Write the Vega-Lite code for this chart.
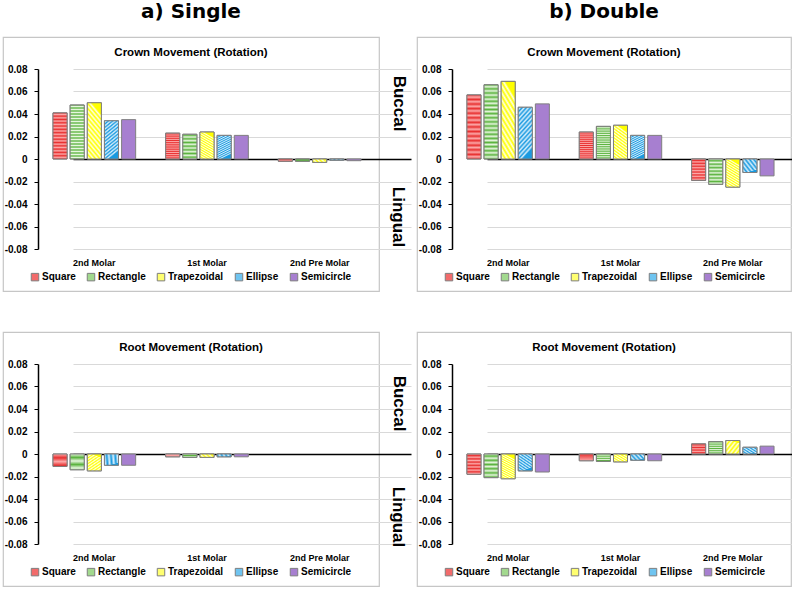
{
  "$schema": "https://vega.github.io/schema/vega-lite/v6.json",
  "background": "white",
  "padding": {"left": 2, "top": 1, "right": 0, "bottom": 0},
  "datasets": {
    "single_crown": [
      {"tooth": "2nd Molar", "shape": "Square", "value": 0.041},
      {"tooth": "2nd Molar", "shape": "Rectangle", "value": 0.048},
      {"tooth": "2nd Molar", "shape": "Trapezoidal", "value": 0.05},
      {"tooth": "2nd Molar", "shape": "Ellipse", "value": 0.034},
      {"tooth": "2nd Molar", "shape": "Semicircle", "value": 0.035},
      {"tooth": "1st Molar", "shape": "Square", "value": 0.023},
      {"tooth": "1st Molar", "shape": "Rectangle", "value": 0.022},
      {"tooth": "1st Molar", "shape": "Trapezoidal", "value": 0.024},
      {"tooth": "1st Molar", "shape": "Ellipse", "value": 0.021},
      {"tooth": "1st Molar", "shape": "Semicircle", "value": 0.021},
      {"tooth": "2nd Pre Molar", "shape": "Square", "value": -0.002},
      {"tooth": "2nd Pre Molar", "shape": "Rectangle", "value": -0.002},
      {"tooth": "2nd Pre Molar", "shape": "Trapezoidal", "value": -0.003},
      {"tooth": "2nd Pre Molar", "shape": "Ellipse", "value": -0.001},
      {"tooth": "2nd Pre Molar", "shape": "Semicircle", "value": -0.0015}
    ],
    "double_crown": [
      {"tooth": "2nd Molar", "shape": "Square", "value": 0.057},
      {"tooth": "2nd Molar", "shape": "Rectangle", "value": 0.066},
      {"tooth": "2nd Molar", "shape": "Trapezoidal", "value": 0.069},
      {"tooth": "2nd Molar", "shape": "Ellipse", "value": 0.046},
      {"tooth": "2nd Molar", "shape": "Semicircle", "value": 0.049},
      {"tooth": "1st Molar", "shape": "Square", "value": 0.024},
      {"tooth": "1st Molar", "shape": "Rectangle", "value": 0.029},
      {"tooth": "1st Molar", "shape": "Trapezoidal", "value": 0.03},
      {"tooth": "1st Molar", "shape": "Ellipse", "value": 0.021},
      {"tooth": "1st Molar", "shape": "Semicircle", "value": 0.021},
      {"tooth": "2nd Pre Molar", "shape": "Square", "value": -0.019},
      {"tooth": "2nd Pre Molar", "shape": "Rectangle", "value": -0.0225},
      {"tooth": "2nd Pre Molar", "shape": "Trapezoidal", "value": -0.025},
      {"tooth": "2nd Pre Molar", "shape": "Ellipse", "value": -0.012},
      {"tooth": "2nd Pre Molar", "shape": "Semicircle", "value": -0.015}
    ],
    "single_root": [
      {"tooth": "2nd Molar", "shape": "Square", "value": -0.011},
      {"tooth": "2nd Molar", "shape": "Rectangle", "value": -0.014},
      {"tooth": "2nd Molar", "shape": "Trapezoidal", "value": -0.015},
      {"tooth": "2nd Molar", "shape": "Ellipse", "value": -0.01},
      {"tooth": "2nd Molar", "shape": "Semicircle", "value": -0.01},
      {"tooth": "1st Molar", "shape": "Square", "value": -0.0025},
      {"tooth": "1st Molar", "shape": "Rectangle", "value": -0.003},
      {"tooth": "1st Molar", "shape": "Trapezoidal", "value": -0.003},
      {"tooth": "1st Molar", "shape": "Ellipse", "value": -0.0025},
      {"tooth": "1st Molar", "shape": "Semicircle", "value": -0.0025}
    ],
    "double_root": [
      {"tooth": "2nd Molar", "shape": "Square", "value": -0.018},
      {"tooth": "2nd Molar", "shape": "Rectangle", "value": -0.021},
      {"tooth": "2nd Molar", "shape": "Trapezoidal", "value": -0.022},
      {"tooth": "2nd Molar", "shape": "Ellipse", "value": -0.015},
      {"tooth": "2nd Molar", "shape": "Semicircle", "value": -0.016},
      {"tooth": "1st Molar", "shape": "Square", "value": -0.006},
      {"tooth": "1st Molar", "shape": "Rectangle", "value": -0.0065},
      {"tooth": "1st Molar", "shape": "Trapezoidal", "value": -0.007},
      {"tooth": "1st Molar", "shape": "Ellipse", "value": -0.0055},
      {"tooth": "1st Molar", "shape": "Semicircle", "value": -0.006},
      {"tooth": "2nd Pre Molar", "shape": "Square", "value": 0.009},
      {"tooth": "2nd Pre Molar", "shape": "Rectangle", "value": 0.011},
      {"tooth": "2nd Pre Molar", "shape": "Trapezoidal", "value": 0.012},
      {"tooth": "2nd Pre Molar", "shape": "Ellipse", "value": 0.006},
      {"tooth": "2nd Pre Molar", "shape": "Semicircle", "value": 0.007}
    ]
  },
  "vconcat": [
    {
      "bounds": "flush",
      "spacing": 38,
      "resolve": {"scale": {"xOffset": "independent", "fill": "independent"}},
      "hconcat": [
        {
          "width": 376, "height": 254,
          "data": {"name": "single_crown"},
          "title": {"text": "a) Single", "subtitle": "Crown Movement (Rotation)", "font": "DejaVu Sans", "fontSize": 20, "subtitleFont": "Liberation Sans", "subtitleFontSize": 11.5, "subtitleFontWeight": "bold", "subtitleColor": "#000000", "subtitlePadding": 25, "offset": -21.5, "frame": "group"},
          "resolve": {"axis": {"y": "independent"}},
          "layer": [
            {
              "mark": {"type": "bar", "stroke": "#7f7f7f", "strokeWidth": 1},
              "encoding": {
                "x": {"field": "tooth", "type": "nominal", "sort": ["2nd Molar", "1st Molar", "2nd Pre Molar"], "scale": {"range": [35, 373], "paddingInner": 0, "paddingOuter": 0}, "axis": {"title": null}},
                "xOffset": {"field": "shape", "type": "nominal", "sort": ["Square", "Rectangle", "Trapezoidal", "Ellipse", "Semicircle"], "scale": {"paddingInner": 0.18, "paddingOuter": 0.875}},
                "y": {"field": "value", "type": "quantitative", "scale": {"domain": [-0.08, 0.08], "range": [212, 32], "nice": false, "zero": false},
                  "axis": {"title": null, "values": [-0.08, -0.06, -0.04, -0.02, 0, 0.02, 0.04, 0.06, 0.08],
                    "labelExpr": "datum.value === 0 ? '0' : (datum.value < 0 ? '-' : '') + format(abs(datum.value), '.2f')",
                    "gridColor": {"condition": {"test": "datum.value === 0", "value": "#000000"}, "value": "#d9d9d9"},
                    "gridWidth": {"condition": {"test": "datum.value === 0", "value": 1.5}, "value": 1}}},
                "fill": {"field": "shape", "type": "nominal", "sort": ["Square", "Rectangle", "Trapezoidal", "Ellipse", "Semicircle"],
                  "scale": {"domain": ["Square", "Rectangle", "Trapezoidal", "Ellipse", "Semicircle"], "range": ["#f26b6b", "#a2d98e", "#ffff70", "#6fc4f0", "#a77fd0"]},
                  "legend": {"orient": "none", "legendX": 27, "legendY": 235, "direction": "horizontal", "columns": 5}}
              }
            },
            {
              "transform": [{"filter": "datum.shape === 'Square'"}],
              "mark": {"type": "bar", "stroke": "#7f7f7f", "strokeWidth": 1, "fill": {"gradient": "linear", "x1": 0, "y1": 0, "x2": 0, "y2": 1, "stops": [
                {"offset": 0, "color": "#e83030"}, {"offset": 0.0357, "color": "#fca8a8"}, {"offset": 0.0714, "color": "#e83030"}, {"offset": 0.1071, "color": "#fca8a8"},
                {"offset": 0.1429, "color": "#e83030"}, {"offset": 0.1786, "color": "#fca8a8"}, {"offset": 0.2143, "color": "#e83030"}, {"offset": 0.25, "color": "#fca8a8"},
                {"offset": 0.2857, "color": "#e83030"}, {"offset": 0.3214, "color": "#fca8a8"}, {"offset": 0.3571, "color": "#e83030"}, {"offset": 0.3929, "color": "#fca8a8"},
                {"offset": 0.4286, "color": "#e83030"}, {"offset": 0.4643, "color": "#fca8a8"}, {"offset": 0.5, "color": "#e83030"}, {"offset": 0.5357, "color": "#fca8a8"},
                {"offset": 0.5714, "color": "#e83030"}, {"offset": 0.6071, "color": "#fca8a8"}, {"offset": 0.6429, "color": "#e83030"}, {"offset": 0.6786, "color": "#fca8a8"},
                {"offset": 0.7143, "color": "#e83030"}, {"offset": 0.75, "color": "#fca8a8"}, {"offset": 0.7857, "color": "#e83030"}, {"offset": 0.8214, "color": "#fca8a8"},
                {"offset": 0.8571, "color": "#e83030"}, {"offset": 0.8929, "color": "#fca8a8"}, {"offset": 0.9286, "color": "#e83030"}, {"offset": 0.9643, "color": "#fca8a8"},
                {"offset": 1, "color": "#e83030"}]}},
              "encoding": {
                "x": {"field": "tooth", "type": "nominal", "sort": ["2nd Molar", "1st Molar", "2nd Pre Molar"], "axis": {"title": null}},
                "xOffset": {"field": "shape", "type": "nominal", "sort": ["Square", "Rectangle", "Trapezoidal", "Ellipse", "Semicircle"]},
                "y": {"field": "value", "type": "quantitative", "axis": null}
              }
            },
            {
              "transform": [{"filter": "datum.shape === 'Rectangle'"}],
              "mark": {"type": "bar", "stroke": "#7f7f7f", "strokeWidth": 1, "fill": {"gradient": "linear", "x1": 0, "y1": 0, "x2": 0, "y2": 1, "stops": [
                {"offset": 0, "color": "#5cb440"}, {"offset": 0.0278, "color": "#e6f6de"}, {"offset": 0.0556, "color": "#5cb440"}, {"offset": 0.0833, "color": "#e6f6de"},
                {"offset": 0.1111, "color": "#5cb440"}, {"offset": 0.1389, "color": "#e6f6de"}, {"offset": 0.1667, "color": "#5cb440"}, {"offset": 0.1944, "color": "#e6f6de"},
                {"offset": 0.2222, "color": "#5cb440"}, {"offset": 0.25, "color": "#e6f6de"}, {"offset": 0.2778, "color": "#5cb440"}, {"offset": 0.3056, "color": "#e6f6de"},
                {"offset": 0.3333, "color": "#5cb440"}, {"offset": 0.3611, "color": "#e6f6de"}, {"offset": 0.3889, "color": "#5cb440"}, {"offset": 0.4167, "color": "#e6f6de"},
                {"offset": 0.4444, "color": "#5cb440"}, {"offset": 0.4722, "color": "#e6f6de"}, {"offset": 0.5, "color": "#5cb440"}, {"offset": 0.5278, "color": "#e6f6de"},
                {"offset": 0.5556, "color": "#5cb440"}, {"offset": 0.5833, "color": "#e6f6de"}, {"offset": 0.6111, "color": "#5cb440"}, {"offset": 0.6389, "color": "#e6f6de"},
                {"offset": 0.6667, "color": "#5cb440"}, {"offset": 0.6944, "color": "#e6f6de"}, {"offset": 0.7222, "color": "#5cb440"}, {"offset": 0.75, "color": "#e6f6de"},
                {"offset": 0.7778, "color": "#5cb440"}, {"offset": 0.8056, "color": "#e6f6de"}, {"offset": 0.8333, "color": "#5cb440"}, {"offset": 0.8611, "color": "#e6f6de"},
                {"offset": 0.8889, "color": "#5cb440"}, {"offset": 0.9167, "color": "#e6f6de"}, {"offset": 0.9444, "color": "#5cb440"}, {"offset": 0.9722, "color": "#e6f6de"},
                {"offset": 1, "color": "#5cb440"}]}},
              "encoding": {
                "x": {"field": "tooth", "type": "nominal", "sort": ["2nd Molar", "1st Molar", "2nd Pre Molar"], "axis": {"title": null}},
                "xOffset": {"field": "shape", "type": "nominal", "sort": ["Square", "Rectangle", "Trapezoidal", "Ellipse", "Semicircle"]},
                "y": {"field": "value", "type": "quantitative", "axis": null}
              }
            },
            {
              "transform": [{"filter": "datum.shape === 'Trapezoidal'"}],
              "mark": {"type": "bar", "stroke": "#7f7f7f", "strokeWidth": 1, "fill": {"gradient": "linear", "x1": 0.3, "y1": 0, "x2": 0, "y2": 1, "stops": [
                {"offset": 0, "color": "#ffff00"}, {"offset": 0.0417, "color": "#ffffe4"}, {"offset": 0.0833, "color": "#ffff00"}, {"offset": 0.125, "color": "#ffffe4"},
                {"offset": 0.1667, "color": "#ffff00"}, {"offset": 0.2083, "color": "#ffffe4"}, {"offset": 0.25, "color": "#ffff00"}, {"offset": 0.2917, "color": "#ffffe4"},
                {"offset": 0.3333, "color": "#ffff00"}, {"offset": 0.375, "color": "#ffffe4"}, {"offset": 0.4167, "color": "#ffff00"}, {"offset": 0.4583, "color": "#ffffe4"},
                {"offset": 0.5, "color": "#ffff00"}, {"offset": 0.5417, "color": "#ffffe4"}, {"offset": 0.5833, "color": "#ffff00"}, {"offset": 0.625, "color": "#ffffe4"},
                {"offset": 0.6667, "color": "#ffff00"}, {"offset": 0.7083, "color": "#ffffe4"}, {"offset": 0.75, "color": "#ffff00"}, {"offset": 0.7917, "color": "#ffffe4"},
                {"offset": 0.8333, "color": "#ffff00"}, {"offset": 0.875, "color": "#ffffe4"}, {"offset": 0.9167, "color": "#ffff00"}, {"offset": 0.9583, "color": "#ffffe4"},
                {"offset": 1, "color": "#ffff00"}]}},
              "encoding": {
                "x": {"field": "tooth", "type": "nominal", "sort": ["2nd Molar", "1st Molar", "2nd Pre Molar"], "axis": {"title": null}},
                "xOffset": {"field": "shape", "type": "nominal", "sort": ["Square", "Rectangle", "Trapezoidal", "Ellipse", "Semicircle"]},
                "y": {"field": "value", "type": "quantitative", "axis": null}
              }
            },
            {
              "transform": [{"filter": "datum.shape === 'Ellipse'"}],
              "mark": {"type": "bar", "stroke": "#7f7f7f", "strokeWidth": 1, "fill": {"gradient": "linear", "x1": 0, "y1": 0, "x2": 0.3, "y2": 1, "stops": [
                {"offset": 0, "color": "#1a9ae0"}, {"offset": 0.0417, "color": "#d8effc"}, {"offset": 0.0833, "color": "#1a9ae0"}, {"offset": 0.125, "color": "#d8effc"},
                {"offset": 0.1667, "color": "#1a9ae0"}, {"offset": 0.2083, "color": "#d8effc"}, {"offset": 0.25, "color": "#1a9ae0"}, {"offset": 0.2917, "color": "#d8effc"},
                {"offset": 0.3333, "color": "#1a9ae0"}, {"offset": 0.375, "color": "#d8effc"}, {"offset": 0.4167, "color": "#1a9ae0"}, {"offset": 0.4583, "color": "#d8effc"},
                {"offset": 0.5, "color": "#1a9ae0"}, {"offset": 0.5417, "color": "#d8effc"}, {"offset": 0.5833, "color": "#1a9ae0"}, {"offset": 0.625, "color": "#d8effc"},
                {"offset": 0.6667, "color": "#1a9ae0"}, {"offset": 0.7083, "color": "#d8effc"}, {"offset": 0.75, "color": "#1a9ae0"}, {"offset": 0.7917, "color": "#d8effc"},
                {"offset": 0.8333, "color": "#1a9ae0"}, {"offset": 0.875, "color": "#d8effc"}, {"offset": 0.9167, "color": "#1a9ae0"}, {"offset": 0.9583, "color": "#d8effc"},
                {"offset": 1, "color": "#1a9ae0"}]}},
              "encoding": {
                "x": {"field": "tooth", "type": "nominal", "sort": ["2nd Molar", "1st Molar", "2nd Pre Molar"], "axis": {"title": null}},
                "xOffset": {"field": "shape", "type": "nominal", "sort": ["Square", "Rectangle", "Trapezoidal", "Ellipse", "Semicircle"]},
                "y": {"field": "value", "type": "quantitative", "axis": null}
              }
            },
            {
              "mark": {"type": "rule", "opacity": 0},
              "encoding": {
                "y": {"datum": 0, "type": "quantitative",
                  "axis": {"orient": "right", "offset": 0, "title": "Buccal", "labels": false, "ticks": false, "domain": false, "grid": false,
                    "titleX": 19, "titleY": 66, "titleAngle": 90, "titleAlign": "center", "titleBaseline": "middle", "titleFontSize": 17, "titleFontWeight": "bold", "titleColor": "#000000"}}
              }
            }
          ]
        },
        {
          "width": 374, "height": 254,
          "data": {"name": "double_crown"},
          "title": {"text": "b) Double", "subtitle": "Crown Movement (Rotation)", "font": "DejaVu Sans", "fontSize": 20, "subtitleFont": "Liberation Sans", "subtitleFontSize": 11.5, "subtitleFontWeight": "bold", "subtitleColor": "#000000", "subtitlePadding": 25, "offset": -21.5, "frame": "group"},
          "resolve": {"axis": {"y": "independent"}},
          "layer": [
            {
              "mark": {"type": "bar", "stroke": "#7f7f7f", "strokeWidth": 1},
              "encoding": {
                "x": {"field": "tooth", "type": "nominal", "sort": ["2nd Molar", "1st Molar", "2nd Pre Molar"], "scale": {"range": [35, 372], "paddingInner": 0, "paddingOuter": 0}, "axis": {"title": null}},
                "xOffset": {"field": "shape", "type": "nominal", "sort": ["Square", "Rectangle", "Trapezoidal", "Ellipse", "Semicircle"], "scale": {"paddingInner": 0.18, "paddingOuter": 0.875}},
                "y": {"field": "value", "type": "quantitative", "scale": {"domain": [-0.08, 0.08], "range": [212, 32], "nice": false, "zero": false},
                  "axis": {"values": [-0.08, -0.06, -0.04, -0.02, 0, 0.02, 0.04, 0.06, 0.08],
                    "labelExpr": "datum.value === 0 ? '0' : (datum.value < 0 ? '-' : '') + format(abs(datum.value), '.2f')",
                    "gridColor": {"condition": {"test": "datum.value === 0", "value": "#000000"}, "value": "#d9d9d9"},
                    "gridWidth": {"condition": {"test": "datum.value === 0", "value": 1.5}, "value": 1},
                    "title": "Lingual", "titleX": -55, "titleY": 179.5, "titleAngle": 90, "titleAlign": "center", "titleBaseline": "middle", "titleFontSize": 17, "titleFontWeight": "bold", "titleColor": "#000000"}},
                "fill": {"field": "shape", "type": "nominal", "sort": ["Square", "Rectangle", "Trapezoidal", "Ellipse", "Semicircle"],
                  "scale": {"domain": ["Square", "Rectangle", "Trapezoidal", "Ellipse", "Semicircle"], "range": ["#f26b6b", "#a2d98e", "#ffff70", "#6fc4f0", "#a77fd0"]},
                  "legend": {"orient": "none", "legendX": 27, "legendY": 235, "direction": "horizontal", "columns": 5}}
              }
            },
            {
              "transform": [{"filter": "datum.shape === 'Square'"}],
              "mark": {"type": "bar", "stroke": "#7f7f7f", "strokeWidth": 1, "fill": {"gradient": "linear", "x1": 0, "y1": 0, "x2": 0, "y2": 1, "stops": [
                {"offset": 0, "color": "#e83030"}, {"offset": 0.0357, "color": "#fca8a8"}, {"offset": 0.0714, "color": "#e83030"}, {"offset": 0.1071, "color": "#fca8a8"},
                {"offset": 0.1429, "color": "#e83030"}, {"offset": 0.1786, "color": "#fca8a8"}, {"offset": 0.2143, "color": "#e83030"}, {"offset": 0.25, "color": "#fca8a8"},
                {"offset": 0.2857, "color": "#e83030"}, {"offset": 0.3214, "color": "#fca8a8"}, {"offset": 0.3571, "color": "#e83030"}, {"offset": 0.3929, "color": "#fca8a8"},
                {"offset": 0.4286, "color": "#e83030"}, {"offset": 0.4643, "color": "#fca8a8"}, {"offset": 0.5, "color": "#e83030"}, {"offset": 0.5357, "color": "#fca8a8"},
                {"offset": 0.5714, "color": "#e83030"}, {"offset": 0.6071, "color": "#fca8a8"}, {"offset": 0.6429, "color": "#e83030"}, {"offset": 0.6786, "color": "#fca8a8"},
                {"offset": 0.7143, "color": "#e83030"}, {"offset": 0.75, "color": "#fca8a8"}, {"offset": 0.7857, "color": "#e83030"}, {"offset": 0.8214, "color": "#fca8a8"},
                {"offset": 0.8571, "color": "#e83030"}, {"offset": 0.8929, "color": "#fca8a8"}, {"offset": 0.9286, "color": "#e83030"}, {"offset": 0.9643, "color": "#fca8a8"},
                {"offset": 1, "color": "#e83030"}]}},
              "encoding": {
                "x": {"field": "tooth", "type": "nominal", "sort": ["2nd Molar", "1st Molar", "2nd Pre Molar"], "axis": {"title": null}},
                "xOffset": {"field": "shape", "type": "nominal", "sort": ["Square", "Rectangle", "Trapezoidal", "Ellipse", "Semicircle"]},
                "y": {"field": "value", "type": "quantitative", "axis": null}
              }
            },
            {
              "transform": [{"filter": "datum.shape === 'Rectangle'"}],
              "mark": {"type": "bar", "stroke": "#7f7f7f", "strokeWidth": 1, "fill": {"gradient": "linear", "x1": 0, "y1": 0, "x2": 0, "y2": 1, "stops": [
                {"offset": 0, "color": "#5cb440"}, {"offset": 0.0278, "color": "#e6f6de"}, {"offset": 0.0556, "color": "#5cb440"}, {"offset": 0.0833, "color": "#e6f6de"},
                {"offset": 0.1111, "color": "#5cb440"}, {"offset": 0.1389, "color": "#e6f6de"}, {"offset": 0.1667, "color": "#5cb440"}, {"offset": 0.1944, "color": "#e6f6de"},
                {"offset": 0.2222, "color": "#5cb440"}, {"offset": 0.25, "color": "#e6f6de"}, {"offset": 0.2778, "color": "#5cb440"}, {"offset": 0.3056, "color": "#e6f6de"},
                {"offset": 0.3333, "color": "#5cb440"}, {"offset": 0.3611, "color": "#e6f6de"}, {"offset": 0.3889, "color": "#5cb440"}, {"offset": 0.4167, "color": "#e6f6de"},
                {"offset": 0.4444, "color": "#5cb440"}, {"offset": 0.4722, "color": "#e6f6de"}, {"offset": 0.5, "color": "#5cb440"}, {"offset": 0.5278, "color": "#e6f6de"},
                {"offset": 0.5556, "color": "#5cb440"}, {"offset": 0.5833, "color": "#e6f6de"}, {"offset": 0.6111, "color": "#5cb440"}, {"offset": 0.6389, "color": "#e6f6de"},
                {"offset": 0.6667, "color": "#5cb440"}, {"offset": 0.6944, "color": "#e6f6de"}, {"offset": 0.7222, "color": "#5cb440"}, {"offset": 0.75, "color": "#e6f6de"},
                {"offset": 0.7778, "color": "#5cb440"}, {"offset": 0.8056, "color": "#e6f6de"}, {"offset": 0.8333, "color": "#5cb440"}, {"offset": 0.8611, "color": "#e6f6de"},
                {"offset": 0.8889, "color": "#5cb440"}, {"offset": 0.9167, "color": "#e6f6de"}, {"offset": 0.9444, "color": "#5cb440"}, {"offset": 0.9722, "color": "#e6f6de"},
                {"offset": 1, "color": "#5cb440"}]}},
              "encoding": {
                "x": {"field": "tooth", "type": "nominal", "sort": ["2nd Molar", "1st Molar", "2nd Pre Molar"], "axis": {"title": null}},
                "xOffset": {"field": "shape", "type": "nominal", "sort": ["Square", "Rectangle", "Trapezoidal", "Ellipse", "Semicircle"]},
                "y": {"field": "value", "type": "quantitative", "axis": null}
              }
            },
            {
              "transform": [{"filter": "datum.shape === 'Trapezoidal'"}],
              "mark": {"type": "bar", "stroke": "#7f7f7f", "strokeWidth": 1, "fill": {"gradient": "linear", "x1": 0.3, "y1": 0, "x2": 0, "y2": 1, "stops": [
                {"offset": 0, "color": "#ffff00"}, {"offset": 0.0417, "color": "#ffffe4"}, {"offset": 0.0833, "color": "#ffff00"}, {"offset": 0.125, "color": "#ffffe4"},
                {"offset": 0.1667, "color": "#ffff00"}, {"offset": 0.2083, "color": "#ffffe4"}, {"offset": 0.25, "color": "#ffff00"}, {"offset": 0.2917, "color": "#ffffe4"},
                {"offset": 0.3333, "color": "#ffff00"}, {"offset": 0.375, "color": "#ffffe4"}, {"offset": 0.4167, "color": "#ffff00"}, {"offset": 0.4583, "color": "#ffffe4"},
                {"offset": 0.5, "color": "#ffff00"}, {"offset": 0.5417, "color": "#ffffe4"}, {"offset": 0.5833, "color": "#ffff00"}, {"offset": 0.625, "color": "#ffffe4"},
                {"offset": 0.6667, "color": "#ffff00"}, {"offset": 0.7083, "color": "#ffffe4"}, {"offset": 0.75, "color": "#ffff00"}, {"offset": 0.7917, "color": "#ffffe4"},
                {"offset": 0.8333, "color": "#ffff00"}, {"offset": 0.875, "color": "#ffffe4"}, {"offset": 0.9167, "color": "#ffff00"}, {"offset": 0.9583, "color": "#ffffe4"},
                {"offset": 1, "color": "#ffff00"}]}},
              "encoding": {
                "x": {"field": "tooth", "type": "nominal", "sort": ["2nd Molar", "1st Molar", "2nd Pre Molar"], "axis": {"title": null}},
                "xOffset": {"field": "shape", "type": "nominal", "sort": ["Square", "Rectangle", "Trapezoidal", "Ellipse", "Semicircle"]},
                "y": {"field": "value", "type": "quantitative", "axis": null}
              }
            },
            {
              "transform": [{"filter": "datum.shape === 'Ellipse'"}],
              "mark": {"type": "bar", "stroke": "#7f7f7f", "strokeWidth": 1, "fill": {"gradient": "linear", "x1": 0, "y1": 0, "x2": 0.3, "y2": 1, "stops": [
                {"offset": 0, "color": "#1a9ae0"}, {"offset": 0.0417, "color": "#d8effc"}, {"offset": 0.0833, "color": "#1a9ae0"}, {"offset": 0.125, "color": "#d8effc"},
                {"offset": 0.1667, "color": "#1a9ae0"}, {"offset": 0.2083, "color": "#d8effc"}, {"offset": 0.25, "color": "#1a9ae0"}, {"offset": 0.2917, "color": "#d8effc"},
                {"offset": 0.3333, "color": "#1a9ae0"}, {"offset": 0.375, "color": "#d8effc"}, {"offset": 0.4167, "color": "#1a9ae0"}, {"offset": 0.4583, "color": "#d8effc"},
                {"offset": 0.5, "color": "#1a9ae0"}, {"offset": 0.5417, "color": "#d8effc"}, {"offset": 0.5833, "color": "#1a9ae0"}, {"offset": 0.625, "color": "#d8effc"},
                {"offset": 0.6667, "color": "#1a9ae0"}, {"offset": 0.7083, "color": "#d8effc"}, {"offset": 0.75, "color": "#1a9ae0"}, {"offset": 0.7917, "color": "#d8effc"},
                {"offset": 0.8333, "color": "#1a9ae0"}, {"offset": 0.875, "color": "#d8effc"}, {"offset": 0.9167, "color": "#1a9ae0"}, {"offset": 0.9583, "color": "#d8effc"},
                {"offset": 1, "color": "#1a9ae0"}]}},
              "encoding": {
                "x": {"field": "tooth", "type": "nominal", "sort": ["2nd Molar", "1st Molar", "2nd Pre Molar"], "axis": {"title": null}},
                "xOffset": {"field": "shape", "type": "nominal", "sort": ["Square", "Rectangle", "Trapezoidal", "Ellipse", "Semicircle"]},
                "y": {"field": "value", "type": "quantitative", "axis": null}
              }
            }
          ]
        }
      ]
    },
    {
      "bounds": "flush",
      "spacing": 38,
      "resolve": {"scale": {"xOffset": "independent", "fill": "independent"}},
      "hconcat": [
        {
          "width": 376, "height": 254,
          "data": {"name": "single_root"},
          "title": "Root Movement (Rotation)",
          "resolve": {"axis": {"y": "independent"}},
          "layer": [
            {
              "mark": {"type": "bar", "stroke": "#7f7f7f", "strokeWidth": 1},
              "encoding": {
                "x": {"field": "tooth", "type": "nominal", "sort": ["2nd Molar", "1st Molar", "2nd Pre Molar"], "scale": {"domain": ["2nd Molar", "1st Molar", "2nd Pre Molar"], "range": [35, 373], "paddingInner": 0, "paddingOuter": 0}, "axis": {"title": null}},
                "xOffset": {"field": "shape", "type": "nominal", "sort": ["Square", "Rectangle", "Trapezoidal", "Ellipse", "Semicircle"], "scale": {"paddingInner": 0.18, "paddingOuter": 0.875}},
                "y": {"field": "value", "type": "quantitative", "scale": {"domain": [-0.08, 0.08], "range": [212, 32], "nice": false, "zero": false},
                  "axis": {"title": null, "values": [-0.08, -0.06, -0.04, -0.02, 0, 0.02, 0.04, 0.06, 0.08],
                    "labelExpr": "datum.value === 0 ? '0' : (datum.value < 0 ? '-' : '') + format(abs(datum.value), '.2f')",
                    "gridColor": {"condition": {"test": "datum.value === 0", "value": "#000000"}, "value": "#d9d9d9"},
                    "gridWidth": {"condition": {"test": "datum.value === 0", "value": 1.5}, "value": 1}}},
                "fill": {"field": "shape", "type": "nominal", "sort": ["Square", "Rectangle", "Trapezoidal", "Ellipse", "Semicircle"],
                  "scale": {"domain": ["Square", "Rectangle", "Trapezoidal", "Ellipse", "Semicircle"], "range": ["#f26b6b", "#a2d98e", "#ffff70", "#6fc4f0", "#a77fd0"]},
                  "legend": {"orient": "none", "legendX": 27, "legendY": 235, "direction": "horizontal", "columns": 5}}
              }
            },
            {
              "transform": [{"filter": "datum.shape === 'Square'"}],
              "mark": {"type": "bar", "stroke": "#7f7f7f", "strokeWidth": 1, "fill": {"gradient": "linear", "x1": 0, "y1": 0, "x2": 0, "y2": 1, "stops": [
                {"offset": 0, "color": "#e83030"}, {"offset": 0.0357, "color": "#fca8a8"}, {"offset": 0.0714, "color": "#e83030"}, {"offset": 0.1071, "color": "#fca8a8"},
                {"offset": 0.1429, "color": "#e83030"}, {"offset": 0.1786, "color": "#fca8a8"}, {"offset": 0.2143, "color": "#e83030"}, {"offset": 0.25, "color": "#fca8a8"},
                {"offset": 0.2857, "color": "#e83030"}, {"offset": 0.3214, "color": "#fca8a8"}, {"offset": 0.3571, "color": "#e83030"}, {"offset": 0.3929, "color": "#fca8a8"},
                {"offset": 0.4286, "color": "#e83030"}, {"offset": 0.4643, "color": "#fca8a8"}, {"offset": 0.5, "color": "#e83030"}, {"offset": 0.5357, "color": "#fca8a8"},
                {"offset": 0.5714, "color": "#e83030"}, {"offset": 0.6071, "color": "#fca8a8"}, {"offset": 0.6429, "color": "#e83030"}, {"offset": 0.6786, "color": "#fca8a8"},
                {"offset": 0.7143, "color": "#e83030"}, {"offset": 0.75, "color": "#fca8a8"}, {"offset": 0.7857, "color": "#e83030"}, {"offset": 0.8214, "color": "#fca8a8"},
                {"offset": 0.8571, "color": "#e83030"}, {"offset": 0.8929, "color": "#fca8a8"}, {"offset": 0.9286, "color": "#e83030"}, {"offset": 0.9643, "color": "#fca8a8"},
                {"offset": 1, "color": "#e83030"}]}},
              "encoding": {
                "x": {"field": "tooth", "type": "nominal", "sort": ["2nd Molar", "1st Molar", "2nd Pre Molar"], "axis": {"title": null}},
                "xOffset": {"field": "shape", "type": "nominal", "sort": ["Square", "Rectangle", "Trapezoidal", "Ellipse", "Semicircle"]},
                "y": {"field": "value", "type": "quantitative", "axis": null}
              }
            },
            {
              "transform": [{"filter": "datum.shape === 'Rectangle'"}],
              "mark": {"type": "bar", "stroke": "#7f7f7f", "strokeWidth": 1, "fill": {"gradient": "linear", "x1": 0, "y1": 0, "x2": 0, "y2": 1, "stops": [
                {"offset": 0, "color": "#5cb440"}, {"offset": 0.0278, "color": "#e6f6de"}, {"offset": 0.0556, "color": "#5cb440"}, {"offset": 0.0833, "color": "#e6f6de"},
                {"offset": 0.1111, "color": "#5cb440"}, {"offset": 0.1389, "color": "#e6f6de"}, {"offset": 0.1667, "color": "#5cb440"}, {"offset": 0.1944, "color": "#e6f6de"},
                {"offset": 0.2222, "color": "#5cb440"}, {"offset": 0.25, "color": "#e6f6de"}, {"offset": 0.2778, "color": "#5cb440"}, {"offset": 0.3056, "color": "#e6f6de"},
                {"offset": 0.3333, "color": "#5cb440"}, {"offset": 0.3611, "color": "#e6f6de"}, {"offset": 0.3889, "color": "#5cb440"}, {"offset": 0.4167, "color": "#e6f6de"},
                {"offset": 0.4444, "color": "#5cb440"}, {"offset": 0.4722, "color": "#e6f6de"}, {"offset": 0.5, "color": "#5cb440"}, {"offset": 0.5278, "color": "#e6f6de"},
                {"offset": 0.5556, "color": "#5cb440"}, {"offset": 0.5833, "color": "#e6f6de"}, {"offset": 0.6111, "color": "#5cb440"}, {"offset": 0.6389, "color": "#e6f6de"},
                {"offset": 0.6667, "color": "#5cb440"}, {"offset": 0.6944, "color": "#e6f6de"}, {"offset": 0.7222, "color": "#5cb440"}, {"offset": 0.75, "color": "#e6f6de"},
                {"offset": 0.7778, "color": "#5cb440"}, {"offset": 0.8056, "color": "#e6f6de"}, {"offset": 0.8333, "color": "#5cb440"}, {"offset": 0.8611, "color": "#e6f6de"},
                {"offset": 0.8889, "color": "#5cb440"}, {"offset": 0.9167, "color": "#e6f6de"}, {"offset": 0.9444, "color": "#5cb440"}, {"offset": 0.9722, "color": "#e6f6de"},
                {"offset": 1, "color": "#5cb440"}]}},
              "encoding": {
                "x": {"field": "tooth", "type": "nominal", "sort": ["2nd Molar", "1st Molar", "2nd Pre Molar"], "axis": {"title": null}},
                "xOffset": {"field": "shape", "type": "nominal", "sort": ["Square", "Rectangle", "Trapezoidal", "Ellipse", "Semicircle"]},
                "y": {"field": "value", "type": "quantitative", "axis": null}
              }
            },
            {
              "transform": [{"filter": "datum.shape === 'Trapezoidal'"}],
              "mark": {"type": "bar", "stroke": "#7f7f7f", "strokeWidth": 1, "fill": {"gradient": "linear", "x1": 0.3, "y1": 0, "x2": 0, "y2": 1, "stops": [
                {"offset": 0, "color": "#ffff00"}, {"offset": 0.0417, "color": "#ffffe4"}, {"offset": 0.0833, "color": "#ffff00"}, {"offset": 0.125, "color": "#ffffe4"},
                {"offset": 0.1667, "color": "#ffff00"}, {"offset": 0.2083, "color": "#ffffe4"}, {"offset": 0.25, "color": "#ffff00"}, {"offset": 0.2917, "color": "#ffffe4"},
                {"offset": 0.3333, "color": "#ffff00"}, {"offset": 0.375, "color": "#ffffe4"}, {"offset": 0.4167, "color": "#ffff00"}, {"offset": 0.4583, "color": "#ffffe4"},
                {"offset": 0.5, "color": "#ffff00"}, {"offset": 0.5417, "color": "#ffffe4"}, {"offset": 0.5833, "color": "#ffff00"}, {"offset": 0.625, "color": "#ffffe4"},
                {"offset": 0.6667, "color": "#ffff00"}, {"offset": 0.7083, "color": "#ffffe4"}, {"offset": 0.75, "color": "#ffff00"}, {"offset": 0.7917, "color": "#ffffe4"},
                {"offset": 0.8333, "color": "#ffff00"}, {"offset": 0.875, "color": "#ffffe4"}, {"offset": 0.9167, "color": "#ffff00"}, {"offset": 0.9583, "color": "#ffffe4"},
                {"offset": 1, "color": "#ffff00"}]}},
              "encoding": {
                "x": {"field": "tooth", "type": "nominal", "sort": ["2nd Molar", "1st Molar", "2nd Pre Molar"], "axis": {"title": null}},
                "xOffset": {"field": "shape", "type": "nominal", "sort": ["Square", "Rectangle", "Trapezoidal", "Ellipse", "Semicircle"]},
                "y": {"field": "value", "type": "quantitative", "axis": null}
              }
            },
            {
              "transform": [{"filter": "datum.shape === 'Ellipse'"}],
              "mark": {"type": "bar", "stroke": "#7f7f7f", "strokeWidth": 1, "fill": {"gradient": "linear", "x1": 0, "y1": 0, "x2": 0.3, "y2": 1, "stops": [
                {"offset": 0, "color": "#1a9ae0"}, {"offset": 0.0417, "color": "#d8effc"}, {"offset": 0.0833, "color": "#1a9ae0"}, {"offset": 0.125, "color": "#d8effc"},
                {"offset": 0.1667, "color": "#1a9ae0"}, {"offset": 0.2083, "color": "#d8effc"}, {"offset": 0.25, "color": "#1a9ae0"}, {"offset": 0.2917, "color": "#d8effc"},
                {"offset": 0.3333, "color": "#1a9ae0"}, {"offset": 0.375, "color": "#d8effc"}, {"offset": 0.4167, "color": "#1a9ae0"}, {"offset": 0.4583, "color": "#d8effc"},
                {"offset": 0.5, "color": "#1a9ae0"}, {"offset": 0.5417, "color": "#d8effc"}, {"offset": 0.5833, "color": "#1a9ae0"}, {"offset": 0.625, "color": "#d8effc"},
                {"offset": 0.6667, "color": "#1a9ae0"}, {"offset": 0.7083, "color": "#d8effc"}, {"offset": 0.75, "color": "#1a9ae0"}, {"offset": 0.7917, "color": "#d8effc"},
                {"offset": 0.8333, "color": "#1a9ae0"}, {"offset": 0.875, "color": "#d8effc"}, {"offset": 0.9167, "color": "#1a9ae0"}, {"offset": 0.9583, "color": "#d8effc"},
                {"offset": 1, "color": "#1a9ae0"}]}},
              "encoding": {
                "x": {"field": "tooth", "type": "nominal", "sort": ["2nd Molar", "1st Molar", "2nd Pre Molar"], "axis": {"title": null}},
                "xOffset": {"field": "shape", "type": "nominal", "sort": ["Square", "Rectangle", "Trapezoidal", "Ellipse", "Semicircle"]},
                "y": {"field": "value", "type": "quantitative", "axis": null}
              }
            },
            {
              "mark": {"type": "rule", "opacity": 0},
              "encoding": {
                "y": {"datum": 0, "type": "quantitative",
                  "axis": {"orient": "right", "offset": 0, "title": "Buccal", "labels": false, "ticks": false, "domain": false, "grid": false,
                    "titleX": 19, "titleY": 71, "titleAngle": 90, "titleAlign": "center", "titleBaseline": "middle", "titleFontSize": 17, "titleFontWeight": "bold", "titleColor": "#000000"}}
              }
            }
          ]
        },
        {
          "width": 374, "height": 254,
          "data": {"name": "double_root"},
          "title": "Root Movement (Rotation)",
          "resolve": {"axis": {"y": "independent"}},
          "layer": [
            {
              "mark": {"type": "bar", "stroke": "#7f7f7f", "strokeWidth": 1},
              "encoding": {
                "x": {"field": "tooth", "type": "nominal", "sort": ["2nd Molar", "1st Molar", "2nd Pre Molar"], "scale": {"range": [35, 372], "paddingInner": 0, "paddingOuter": 0}, "axis": {"title": null}},
                "xOffset": {"field": "shape", "type": "nominal", "sort": ["Square", "Rectangle", "Trapezoidal", "Ellipse", "Semicircle"], "scale": {"paddingInner": 0.18, "paddingOuter": 0.875}},
                "y": {"field": "value", "type": "quantitative", "scale": {"domain": [-0.08, 0.08], "range": [212, 32], "nice": false, "zero": false},
                  "axis": {"values": [-0.08, -0.06, -0.04, -0.02, 0, 0.02, 0.04, 0.06, 0.08],
                    "labelExpr": "datum.value === 0 ? '0' : (datum.value < 0 ? '-' : '') + format(abs(datum.value), '.2f')",
                    "gridColor": {"condition": {"test": "datum.value === 0", "value": "#000000"}, "value": "#d9d9d9"},
                    "gridWidth": {"condition": {"test": "datum.value === 0", "value": 1.5}, "value": 1},
                    "title": "Lingual", "titleX": -55, "titleY": 184.5, "titleAngle": 90, "titleAlign": "center", "titleBaseline": "middle", "titleFontSize": 17, "titleFontWeight": "bold", "titleColor": "#000000"}},
                "fill": {"field": "shape", "type": "nominal", "sort": ["Square", "Rectangle", "Trapezoidal", "Ellipse", "Semicircle"],
                  "scale": {"domain": ["Square", "Rectangle", "Trapezoidal", "Ellipse", "Semicircle"], "range": ["#f26b6b", "#a2d98e", "#ffff70", "#6fc4f0", "#a77fd0"]},
                  "legend": {"orient": "none", "legendX": 27, "legendY": 235, "direction": "horizontal", "columns": 5}}
              }
            },
            {
              "transform": [{"filter": "datum.shape === 'Square'"}],
              "mark": {"type": "bar", "stroke": "#7f7f7f", "strokeWidth": 1, "fill": {"gradient": "linear", "x1": 0, "y1": 0, "x2": 0, "y2": 1, "stops": [
                {"offset": 0, "color": "#e83030"}, {"offset": 0.0357, "color": "#fca8a8"}, {"offset": 0.0714, "color": "#e83030"}, {"offset": 0.1071, "color": "#fca8a8"},
                {"offset": 0.1429, "color": "#e83030"}, {"offset": 0.1786, "color": "#fca8a8"}, {"offset": 0.2143, "color": "#e83030"}, {"offset": 0.25, "color": "#fca8a8"},
                {"offset": 0.2857, "color": "#e83030"}, {"offset": 0.3214, "color": "#fca8a8"}, {"offset": 0.3571, "color": "#e83030"}, {"offset": 0.3929, "color": "#fca8a8"},
                {"offset": 0.4286, "color": "#e83030"}, {"offset": 0.4643, "color": "#fca8a8"}, {"offset": 0.5, "color": "#e83030"}, {"offset": 0.5357, "color": "#fca8a8"},
                {"offset": 0.5714, "color": "#e83030"}, {"offset": 0.6071, "color": "#fca8a8"}, {"offset": 0.6429, "color": "#e83030"}, {"offset": 0.6786, "color": "#fca8a8"},
                {"offset": 0.7143, "color": "#e83030"}, {"offset": 0.75, "color": "#fca8a8"}, {"offset": 0.7857, "color": "#e83030"}, {"offset": 0.8214, "color": "#fca8a8"},
                {"offset": 0.8571, "color": "#e83030"}, {"offset": 0.8929, "color": "#fca8a8"}, {"offset": 0.9286, "color": "#e83030"}, {"offset": 0.9643, "color": "#fca8a8"},
                {"offset": 1, "color": "#e83030"}]}},
              "encoding": {
                "x": {"field": "tooth", "type": "nominal", "sort": ["2nd Molar", "1st Molar", "2nd Pre Molar"], "axis": {"title": null}},
                "xOffset": {"field": "shape", "type": "nominal", "sort": ["Square", "Rectangle", "Trapezoidal", "Ellipse", "Semicircle"]},
                "y": {"field": "value", "type": "quantitative", "axis": null}
              }
            },
            {
              "transform": [{"filter": "datum.shape === 'Rectangle'"}],
              "mark": {"type": "bar", "stroke": "#7f7f7f", "strokeWidth": 1, "fill": {"gradient": "linear", "x1": 0, "y1": 0, "x2": 0, "y2": 1, "stops": [
                {"offset": 0, "color": "#5cb440"}, {"offset": 0.0278, "color": "#e6f6de"}, {"offset": 0.0556, "color": "#5cb440"}, {"offset": 0.0833, "color": "#e6f6de"},
                {"offset": 0.1111, "color": "#5cb440"}, {"offset": 0.1389, "color": "#e6f6de"}, {"offset": 0.1667, "color": "#5cb440"}, {"offset": 0.1944, "color": "#e6f6de"},
                {"offset": 0.2222, "color": "#5cb440"}, {"offset": 0.25, "color": "#e6f6de"}, {"offset": 0.2778, "color": "#5cb440"}, {"offset": 0.3056, "color": "#e6f6de"},
                {"offset": 0.3333, "color": "#5cb440"}, {"offset": 0.3611, "color": "#e6f6de"}, {"offset": 0.3889, "color": "#5cb440"}, {"offset": 0.4167, "color": "#e6f6de"},
                {"offset": 0.4444, "color": "#5cb440"}, {"offset": 0.4722, "color": "#e6f6de"}, {"offset": 0.5, "color": "#5cb440"}, {"offset": 0.5278, "color": "#e6f6de"},
                {"offset": 0.5556, "color": "#5cb440"}, {"offset": 0.5833, "color": "#e6f6de"}, {"offset": 0.6111, "color": "#5cb440"}, {"offset": 0.6389, "color": "#e6f6de"},
                {"offset": 0.6667, "color": "#5cb440"}, {"offset": 0.6944, "color": "#e6f6de"}, {"offset": 0.7222, "color": "#5cb440"}, {"offset": 0.75, "color": "#e6f6de"},
                {"offset": 0.7778, "color": "#5cb440"}, {"offset": 0.8056, "color": "#e6f6de"}, {"offset": 0.8333, "color": "#5cb440"}, {"offset": 0.8611, "color": "#e6f6de"},
                {"offset": 0.8889, "color": "#5cb440"}, {"offset": 0.9167, "color": "#e6f6de"}, {"offset": 0.9444, "color": "#5cb440"}, {"offset": 0.9722, "color": "#e6f6de"},
                {"offset": 1, "color": "#5cb440"}]}},
              "encoding": {
                "x": {"field": "tooth", "type": "nominal", "sort": ["2nd Molar", "1st Molar", "2nd Pre Molar"], "axis": {"title": null}},
                "xOffset": {"field": "shape", "type": "nominal", "sort": ["Square", "Rectangle", "Trapezoidal", "Ellipse", "Semicircle"]},
                "y": {"field": "value", "type": "quantitative", "axis": null}
              }
            },
            {
              "transform": [{"filter": "datum.shape === 'Trapezoidal'"}],
              "mark": {"type": "bar", "stroke": "#7f7f7f", "strokeWidth": 1, "fill": {"gradient": "linear", "x1": 0.3, "y1": 0, "x2": 0, "y2": 1, "stops": [
                {"offset": 0, "color": "#ffff00"}, {"offset": 0.0417, "color": "#ffffe4"}, {"offset": 0.0833, "color": "#ffff00"}, {"offset": 0.125, "color": "#ffffe4"},
                {"offset": 0.1667, "color": "#ffff00"}, {"offset": 0.2083, "color": "#ffffe4"}, {"offset": 0.25, "color": "#ffff00"}, {"offset": 0.2917, "color": "#ffffe4"},
                {"offset": 0.3333, "color": "#ffff00"}, {"offset": 0.375, "color": "#ffffe4"}, {"offset": 0.4167, "color": "#ffff00"}, {"offset": 0.4583, "color": "#ffffe4"},
                {"offset": 0.5, "color": "#ffff00"}, {"offset": 0.5417, "color": "#ffffe4"}, {"offset": 0.5833, "color": "#ffff00"}, {"offset": 0.625, "color": "#ffffe4"},
                {"offset": 0.6667, "color": "#ffff00"}, {"offset": 0.7083, "color": "#ffffe4"}, {"offset": 0.75, "color": "#ffff00"}, {"offset": 0.7917, "color": "#ffffe4"},
                {"offset": 0.8333, "color": "#ffff00"}, {"offset": 0.875, "color": "#ffffe4"}, {"offset": 0.9167, "color": "#ffff00"}, {"offset": 0.9583, "color": "#ffffe4"},
                {"offset": 1, "color": "#ffff00"}]}},
              "encoding": {
                "x": {"field": "tooth", "type": "nominal", "sort": ["2nd Molar", "1st Molar", "2nd Pre Molar"], "axis": {"title": null}},
                "xOffset": {"field": "shape", "type": "nominal", "sort": ["Square", "Rectangle", "Trapezoidal", "Ellipse", "Semicircle"]},
                "y": {"field": "value", "type": "quantitative", "axis": null}
              }
            },
            {
              "transform": [{"filter": "datum.shape === 'Ellipse'"}],
              "mark": {"type": "bar", "stroke": "#7f7f7f", "strokeWidth": 1, "fill": {"gradient": "linear", "x1": 0, "y1": 0, "x2": 0.3, "y2": 1, "stops": [
                {"offset": 0, "color": "#1a9ae0"}, {"offset": 0.0417, "color": "#d8effc"}, {"offset": 0.0833, "color": "#1a9ae0"}, {"offset": 0.125, "color": "#d8effc"},
                {"offset": 0.1667, "color": "#1a9ae0"}, {"offset": 0.2083, "color": "#d8effc"}, {"offset": 0.25, "color": "#1a9ae0"}, {"offset": 0.2917, "color": "#d8effc"},
                {"offset": 0.3333, "color": "#1a9ae0"}, {"offset": 0.375, "color": "#d8effc"}, {"offset": 0.4167, "color": "#1a9ae0"}, {"offset": 0.4583, "color": "#d8effc"},
                {"offset": 0.5, "color": "#1a9ae0"}, {"offset": 0.5417, "color": "#d8effc"}, {"offset": 0.5833, "color": "#1a9ae0"}, {"offset": 0.625, "color": "#d8effc"},
                {"offset": 0.6667, "color": "#1a9ae0"}, {"offset": 0.7083, "color": "#d8effc"}, {"offset": 0.75, "color": "#1a9ae0"}, {"offset": 0.7917, "color": "#d8effc"},
                {"offset": 0.8333, "color": "#1a9ae0"}, {"offset": 0.875, "color": "#d8effc"}, {"offset": 0.9167, "color": "#1a9ae0"}, {"offset": 0.9583, "color": "#d8effc"},
                {"offset": 1, "color": "#1a9ae0"}]}},
              "encoding": {
                "x": {"field": "tooth", "type": "nominal", "sort": ["2nd Molar", "1st Molar", "2nd Pre Molar"], "axis": {"title": null}},
                "xOffset": {"field": "shape", "type": "nominal", "sort": ["Square", "Rectangle", "Trapezoidal", "Ellipse", "Semicircle"]},
                "y": {"field": "value", "type": "quantitative", "axis": null}
              }
            }
          ]
        }
      ]
    }
  ],
  "spacing": 39,
  "resolve": {"scale": {"xOffset": "independent", "fill": "independent"}},
  "config": {
    "font": "Liberation Sans",
    "view": {"stroke": "#c6c6c6", "strokeWidth": 1.2},
    "title": {"fontSize": 11.5, "fontWeight": "bold", "color": "#000000", "anchor": "middle", "offset": -21},
    "axisLeft": {"offset": -35, "grid": true, "domainColor": "#000000", "domainWidth": 1.5, "tickColor": "#000000", "tickSize": 4, "tickWidth": 1,
      "labelFontSize": 10, "labelFontWeight": "bold", "labelColor": "#000000", "labelPadding": 7},
    "axisBottom": {"offset": -29, "domain": false, "ticks": false, "grid": false, "labelAngle": 0, "labelFontSize": 9, "labelFontWeight": "bold",
      "labelColor": "#000000", "labelBaseline": "middle", "labelPadding": 0},
    "legend": {"title": null, "symbolType": "square", "symbolSize": 56, "symbolStrokeColor": "#7f7f7f", "symbolStrokeWidth": 1,
      "labelFontSize": 10, "labelFontWeight": "bold", "labelColor": "#000000", "labelOffset": 2, "columnPadding": 9, "padding": 0}
  }
}
